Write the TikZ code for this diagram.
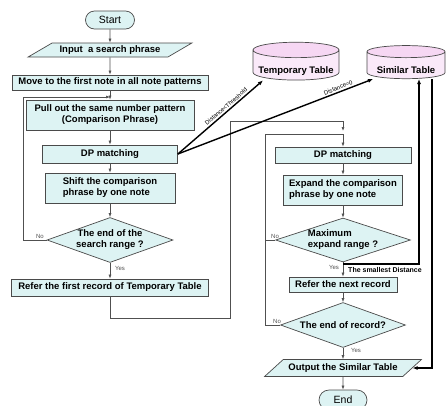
\documentclass[tikz,border=0pt]{standalone}
\usepackage{fontspec}
\setmainfont{Liberation Sans}
\usetikzlibrary{arrows.meta,shapes.geometric,shapes.misc}

\definecolor{boxfill}{HTML}{DDF3F3}
\definecolor{boxline}{HTML}{4A4A4A}
\definecolor{flowline}{HTML}{505050}
\definecolor{tabpink}{HTML}{EFB6EA}

\tikzset{
  base/.style={draw=boxline, line width=0.7pt, fill=boxfill, inner sep=1pt,
    font=\fontsize{9.5}{11}\selectfont\bfseries},
  proc/.style={base, rectangle, align=center},
  io/.style={base, trapezium, trapezium stretches=true},
  term/.style={base, rounded rectangle, font=\fontsize{10.5}{12}\selectfont},
  decide/.style={base, diamond, align=center, inner sep=0pt},
  tab/.style={cylinder, shape border rotate=90, draw=boxline, line width=0.7pt,
    cylinder uses custom fill, cylinder body fill=tabpink!30,
    cylinder end fill=tabpink!55, inner sep=1pt, text height=14pt, text depth=0pt,
    font=\fontsize{9.5}{11}\selectfont\bfseries},
  flow/.style={draw=flowline, line width=0.6pt, -{Latex[length=4pt,width=3pt]}},
  link/.style={draw=flowline, line width=0.6pt},
  fat/.style={draw=black, line width=1.4pt, -{Latex[length=5pt,width=4pt]}},
  lbl/.style={font=\fontsize{6}{7}\selectfont, text=flowline, inner sep=0pt},
}

\begin{document}
\begin{tikzpicture}[x=1pt,y=-1pt]
  \useasboundingbox (0,0) rectangle (446,405);
  % left column
  \node[term, minimum width=51, minimum height=18] (start) at (110,20) {Start};
  \node[io, trapezium left angle=27, trapezium right angle=153,
        minimum width=164, minimum height=14] (inp) at (110,50) {Input\ \ a search phrase};
  \node[proc, minimum width=196, minimum height=15] (move) at (110,82.5) {Move to the first note in all note patterns};
  \node[proc, minimum width=168, minimum height=30] (pull) at (110,115) {Pull out the same number pattern\\(Comparison Phrase)};
  \node[proc, minimum width=135, minimum height=18] (dpa) at (110,154) {DP matching};
  \node[proc, minimum width=130, minimum height=30, align=left] (shift) at (110,188) {Shift the comparison\\phrase by one note};
  \node[decide, aspect=2.8, minimum width=126, minimum height=45] (srange) at (110,240) {The end of the\\search range ?};
  \node[proc, minimum width=197, minimum height=17] (ref1) at (110,287.5) {Refer the first record of Temporary Table};

  % tables
  \node[tab, minimum height=26, minimum width=86, aspect=0.2] (temp) at (296,66) {Temporary Table};
  \node[tab, minimum height=26, minimum width=78, aspect=0.2] (simt) at (406,66) {Similar Table};

  % right column
  \node[proc, minimum width=136, minimum height=16] (dpb) at (343,155) {DP matching};
  \node[proc, minimum width=119, minimum height=30, align=left] (expand) at (343,190) {Expand the comparison\\phrase by one note};
  \node[decide, aspect=3.05, minimum width=135, minimum height=44, align=left] (maxr) at (343,240) {Maximum\\expand range ?};
  \node[proc, minimum width=108, minimum height=15] (nextr) at (343,284.5) {Refer the next record};
  \node[decide, aspect=2.8, minimum width=125, minimum height=45] (endr) at (343,325) {The end of record?};
  \node[io, trapezium left angle=32, trapezium right angle=148,
        minimum width=157, minimum height=17] (outs) at (343,368) {Output the Similar Table};
  \node[term, minimum width=50, minimum height=20] (end) at (343,400) {End};

  % free ends and corners
  \coordinate (lcorner) at (23,97);
  \coordinate (ljoin) at (110,97);
  \coordinate (olow) at (230,318);
  \coordinate (otop) at (230,121);
  \coordinate (oin) at (343,131);
  \coordinate (itop) at (265,134);
  \coordinate (sdstart) at (343,264);

  % left flow
  \draw[flow] (start) -- (inp);
  \draw[flow] (inp) -- (move);
  \draw[flow] (move) -- (pull);
  \draw[flow] (pull) -- (dpa);
  \draw[flow] (dpa) -- (shift);
  \draw[flow] (shift) -- (srange);
  \draw[flow] (srange) -- (ref1);
  \draw[flow] (srange.west) -| (lcorner) -- (ljoin);
  \node[lbl] (no1) at (40,236) {No};
  \node[lbl] (yes1) at (120,268) {Yes};

  % right flow
  \draw[flow] (ref1.south) |- (olow) -- (otop) -| (oin);
  \draw[flow] (endr.west) -| (itop) -| (dpb.north);
  \draw[link] (maxr.west) -- (maxr.west -| itop);
  \draw[flow] (dpb) -- (expand);
  \draw[flow] (expand) -- (maxr);
  \draw[flow] (maxr) -- (nextr);
  \draw[flow] (nextr) -- (endr);
  \draw[flow] (endr) -- (outs);
  \draw[flow] (outs) -- (end);
  \node[lbl] (no2) at (275,236) {No};
  \node[lbl] (yes2) at (334,267) {Yes};
  \node[lbl] (no3) at (277,321) {No};
  \node[lbl] (yes3) at (356,350) {Yes};
  \node[font=\fontsize{7}{8}\selectfont\bfseries, inner sep=0pt] (smallest) at (385,269.5) {The smallest Distance};

  % table links
  \draw[fat] (dpa.east) -- ([xshift=-33]temp.south)
    node[sloped, above, pos=.6, inner sep=1.5pt, font=\fontsize{6}{7}\selectfont] (lthr) {Distance<Threshold};
  \draw[fat] (dpa.east) -- ([xshift=-33]simt.south)
    node[sloped, above, pos=.83, inner sep=1.5pt, font=\fontsize{6}{7}\selectfont] (lzero) {Distance=0};
  \draw[fat] (sdstart) -| ([xshift=13]simt.south);
  \draw[fat] ([xshift=26]simt.south) |- (outs.east);
\end{tikzpicture}
\end{document}
